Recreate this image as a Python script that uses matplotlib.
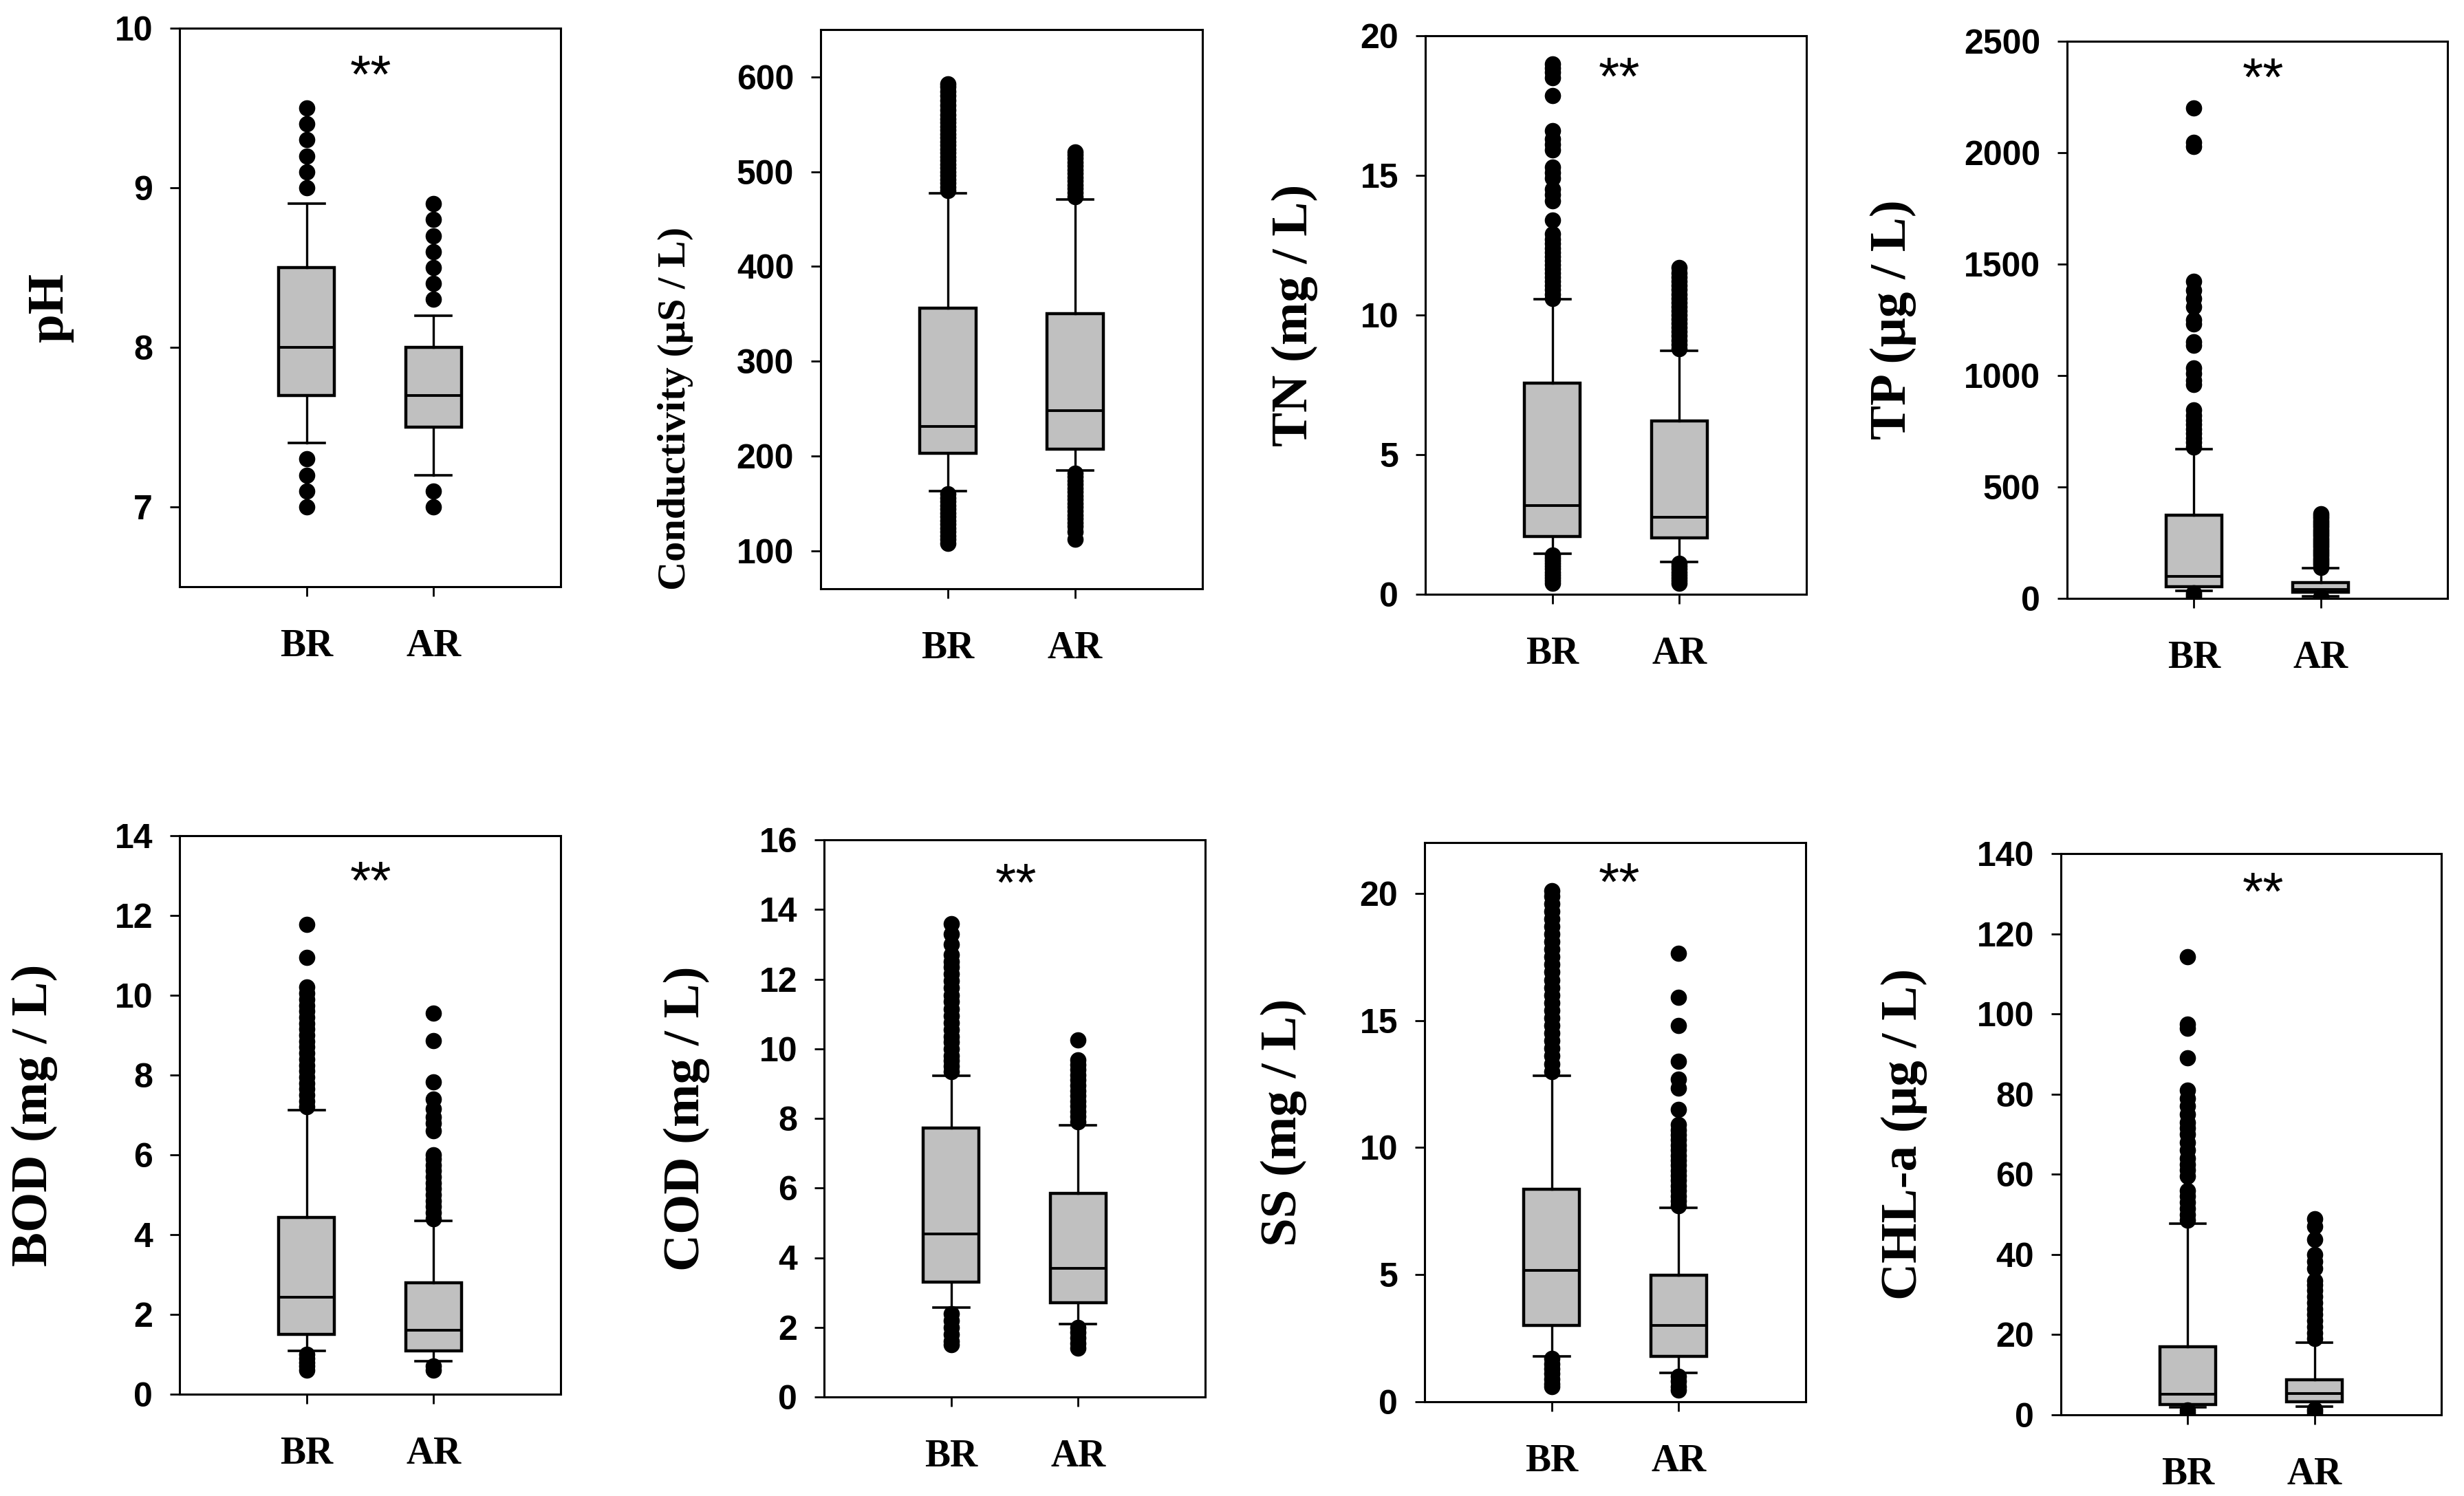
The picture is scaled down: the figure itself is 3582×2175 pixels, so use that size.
import matplotlib
matplotlib.use("Agg")
import matplotlib.pyplot as plt

W, H = 3582, 2175
DPI = 200

groups = ["BR", "AR"]

# box stats per group: [whislo, q1, med, q3, whishi]
ph_box = [[7.4, 7.7, 8.0, 8.5, 8.9], [7.2, 7.5, 7.7, 8.0, 8.2]]
ph_out = [[9.0, 9.1, 9.2, 9.3, 9.4, 9.5, 7.3, 7.2, 7.1, 7.0],
          [8.3, 8.4, 8.5, 8.6, 8.7, 8.8, 8.9, 7.1, 7.0]]

cond_box = [[163, 203, 231, 356, 477], [185, 207, 248, 350, 471]]
cond_out = [[480, 484, 488, 492, 496, 500, 504, 508, 512, 516, 520, 524, 528, 532,
             536, 540, 544, 548, 552, 556, 560, 565, 570, 575, 580, 585, 590, 593,
             160, 156, 152, 148, 144, 140, 136, 132, 128, 124, 120, 116, 112, 108],
            [474, 478, 482, 486, 490, 494, 498, 502, 506, 510, 514, 518, 521,
             182, 178, 174, 170, 166, 162, 158, 154, 150, 146, 142, 138, 134, 130,
             126, 120, 112]]

tn_box = [[1.45, 2.08, 3.17, 7.56, 10.57], [1.16, 2.03, 2.77, 6.21, 8.73]]
tn_out = [[10.6, 10.75, 10.9, 11.05, 11.2, 11.35, 11.5, 11.65, 11.8, 11.95, 12.1,
           12.25, 12.4, 12.55, 12.7, 12.9, 13.4, 14.1, 14.3, 14.5, 14.9, 15.1, 15.3,
           15.9, 16.1, 16.3, 16.6, 17.85, 18.5, 18.7, 18.85, 19.0,
           1.4, 1.3, 1.2, 1.1, 1.0, 0.9, 0.8, 0.7, 0.6, 0.5, 0.4],
          [8.8, 8.95, 9.1, 9.25, 9.4, 9.55, 9.7, 9.85, 10.0, 10.15, 10.3, 10.45,
           10.6, 10.75, 10.9, 11.05, 11.2, 11.35, 11.5, 11.7,
           1.1, 1.0, 0.9, 0.8, 0.7, 0.6, 0.5, 0.4]]

tp_box = [[33, 53, 99, 372, 670], [10, 28, 41, 70, 136]]
tp_out = [[680, 700, 720, 740, 760, 780, 800, 820, 845, 960, 977, 1010, 1035,
           1137, 1150, 1230, 1250, 1308, 1345, 1382, 1424, 2028, 2045, 2202,
           25, 15, 5],
          [140, 150, 160, 170, 180, 190, 200, 210, 220, 230, 240, 250, 260, 270,
           280, 290, 300, 310, 320, 330, 340, 350, 360, 370, 381, 6, 3, 0]]

bod_box = [[1.08, 1.50, 2.43, 4.43, 7.12], [0.82, 1.08, 1.61, 2.79, 4.34]]
bod_out = [[7.2, 7.35, 7.5, 7.65, 7.8, 7.95, 8.1, 8.25, 8.4, 8.55, 8.7, 8.85, 9.0,
            9.15, 9.3, 9.45, 9.6, 9.75, 9.9, 10.05, 10.2, 10.95, 11.77,
            1.0, 0.9, 0.8, 0.7, 0.6],
           [4.4, 4.55, 4.7, 4.85, 5.0, 5.15, 5.3, 5.45, 5.6, 5.75, 5.9, 6.0,
            6.6, 6.79, 6.95, 7.16, 7.4, 7.82, 8.87, 9.55, 0.7, 0.6]]

cod_box = [[2.56, 3.29, 4.68, 7.72, 9.22], [2.1, 2.70, 3.69, 5.84, 7.8]]
cod_out = [[9.35, 9.5, 9.65, 9.8, 10.0, 10.2, 10.36, 10.55, 10.75, 10.95, 11.15,
            11.35, 11.54, 11.75, 11.95, 12.15, 12.35, 12.5, 12.7, 13.0, 13.3, 13.6,
            2.4, 2.2, 2.0, 1.8, 1.6, 1.5],
           [7.9, 8.05, 8.2, 8.35, 8.5, 8.65, 8.8, 8.95, 9.1, 9.25, 9.4, 9.55, 9.67,
            10.26, 2.0, 1.85, 1.7, 1.55, 1.4]]

ss_box = [[1.79, 3.01, 5.18, 8.35, 12.82], [1.13, 1.79, 3.01, 4.97, 7.62]]
ss_out = [[13.0, 13.3, 13.6, 13.9, 14.2, 14.5, 14.8, 15.1, 15.4, 15.7, 16.0, 16.3,
           16.6, 16.9, 17.2, 17.5, 17.8, 18.1, 18.4, 18.7, 19.0, 19.3, 19.6, 19.9,
           20.1, 1.7, 1.5, 1.3, 1.1, 0.9, 0.7, 0.6],
          [7.7, 7.9, 8.1, 8.3, 8.5, 8.7, 8.9, 9.1, 9.3, 9.5, 9.7, 9.9, 10.1, 10.3,
           10.5, 10.7, 10.9, 11.5, 12.35, 12.7, 13.4, 14.8, 15.9, 17.65,
           1.0, 0.8, 0.6, 0.45]]

chl_box = [[1.9, 2.6, 5.1, 17.05, 47.7], [2.1, 3.3, 5.3, 8.7, 18.0]]
chl_out = [[48.5, 50, 51.5, 53, 54.5, 56, 59.5, 61, 62.5, 64, 66, 68, 70, 71.5,
            73, 75, 77, 79, 81, 89, 96.5, 97.4, 114.2, 1.2, 0.6],
           [19, 20.5, 22, 23.5, 25, 26.5, 28, 29.5, 31, 32.5, 33.5, 36.5, 38.2,
            40, 43.8, 47, 48.9, 1.4, 0.8, 0.2]]

ylabels = ["pH", "Conductivity (μS / L)", "TN (mg / L)", "TP (μg / L)",
           "BOD (mg / L)", "COD (mg / L)", "SS (mg / L)", "CHL-a (μg / L)"]
boxes = [ph_box, cond_box, tn_box, tp_box, bod_box, cod_box, ss_box, chl_box]
outs = [ph_out, cond_out, tn_out, tp_out, bod_out, cod_out, ss_out, chl_out]
yticks = [[7, 8, 9, 10], [100, 200, 300, 400, 500, 600], [0, 5, 10, 15, 20],
          [0, 500, 1000, 1500, 2000, 2500], [0, 2, 4, 6, 8, 10, 12, 14],
          [0, 2, 4, 6, 8, 10, 12, 14, 16], [0, 5, 10, 15, 20],
          [0, 20, 40, 60, 80, 100, 120, 140]]
ylims = [(6.5, 10), (60, 650), (0, 20), (0, 2500), (0, 14), (0, 16), (0, 22), (0, 140)]
signif = [True, False, True, True, True, True, True, True]

# layout in pixels: left, right, top, bottom
boxes_px = [(261, 815, 41, 853), (1193, 1748, 43, 856), (2072, 2626, 52, 864),
            (3005, 3558, 60, 870), (261, 815, 1215, 2027), (1198, 1752, 1221, 2031),
            (2071, 2625, 1225, 2038), (2996, 3549, 1241, 2057)]
label_off = [188, 211, 190, 253, 211, 200, 205, 228]
label_y = [0.5, 0.322, 0.5, 0.5, 0.5, 0.5, 0.5, 0.5]
label_size = [27, 21, 27, 27, 27, 27, 27, 27]
star_x = [0.502, 0.5, 0.509, 0.515, 0.502, 0.503, 0.511, 0.532]
star_y = [0.94, 0.94, 0.95, 0.958, 0.942, 0.946, 0.952, 0.955]

serif = ["Liberation Serif", "DejaVu Serif"]
sans = ["Liberation Sans", "DejaVu Sans"]

fig = plt.figure(figsize=(W / DPI, H / DPI), dpi=DPI)

for i in range(8):
    l, r, t, b = boxes_px[i]
    ax = fig.add_axes([l / W, 1 - b / H, (r - l) / W, (b - t) / H])

    stats = []
    for g in range(2):
        lo, q1, med, q3, hi = boxes[i][g]
        stats.append(dict(whislo=lo, q1=q1, med=med, q3=q3, whishi=hi,
                          fliers=outs[i][g], label=groups[g]))

    ax.bxp(stats, positions=[1, 2], widths=0.44, capwidths=0.28,
           patch_artist=True, manage_ticks=False,
           boxprops=dict(facecolor="#c0c0c0", edgecolor="black", linewidth=1.6),
           medianprops=dict(color="black", linewidth=1.4),
           whiskerprops=dict(color="black", linewidth=1.2),
           capprops=dict(color="black", linewidth=1.3),
           flierprops=dict(marker="o", markerfacecolor="black",
                           markeredgecolor="black", markersize=7.5,
                           linestyle="none"))

    ax.set_xlim(0, 3)
    ax.set_ylim(*ylims[i])
    ax.set_xticks([1, 2])
    ax.set_xticklabels(groups, family=serif, fontweight="bold", fontsize=20)
    ax.set_yticks(yticks[i])
    ax.set_yticklabels([str(v) for v in yticks[i]], family=sans,
                       fontweight="bold", fontsize=18)
    ax.tick_params(axis="y", direction="out", length=5, width=1.0, pad=9)
    ax.tick_params(axis="x", direction="out", length=5, width=1.0, pad=17)
    for sp in ax.spines.values():
        sp.set_linewidth(1.1)
        sp.set_color("black")

    off = label_off[i] / (r - l)
    ax.text(-off, label_y[i], ylabels[i], transform=ax.transAxes, rotation=90,
            ha="center", va="center", family=serif, fontweight="bold",
            fontsize=label_size[i])

    if signif[i]:
        ax.text(star_x[i], star_y[i] - 0.055, "**", transform=ax.transAxes,
                ha="center", va="baseline", family=sans, fontsize=28)

fig.savefig("out.png", dpi=DPI)
